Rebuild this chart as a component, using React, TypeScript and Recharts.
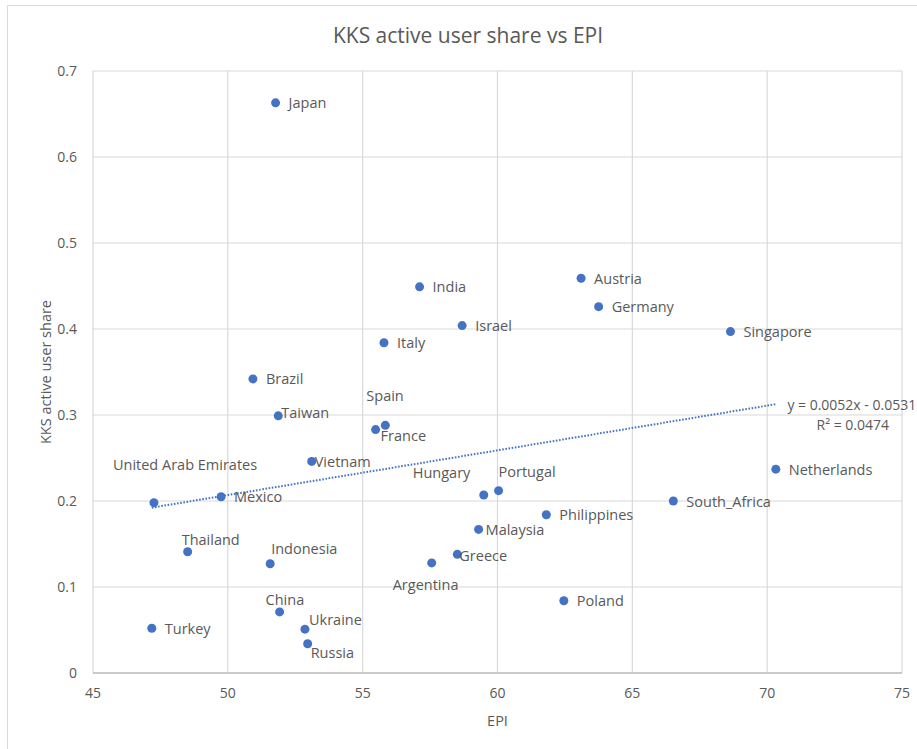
import React from "react";
import {
  ScatterChart,
  Scatter,
  XAxis,
  YAxis,
  CartesianGrid,
  ReferenceLine,
  ReferenceDot,
  Label,
} from "recharts";

const COUNTRIES = [
  "Japan", "India", "Italy", "Brazil", "Israel", "Austria", "Germany", "Singapore",
  "Taiwan", "Spain", "France", "Vietnam", "United Arab Emirates", "Mexico", "Thailand",
  "Indonesia", "China", "Turkey", "Ukraine", "Russia", "Argentina", "Greece", "Hungary",
  "Portugal", "Malaysia", "Philippines", "South_Africa", "Netherlands", "Poland",
];
const EPI = [
  51.77, 57.11, 55.79, 50.93, 58.69, 63.1, 63.75, 68.64,
  51.87, 55.84, 55.48, 53.11, 47.26, 49.75, 48.51,
  51.57, 51.92, 47.18, 52.86, 52.96, 57.56, 58.51, 59.49,
  60.04, 59.3, 61.81, 66.52, 70.32, 62.46,
];
const SHARE = [
  0.663, 0.449, 0.384, 0.342, 0.404, 0.459, 0.426, 0.397,
  0.299, 0.288, 0.283, 0.246, 0.198, 0.205, 0.141,
  0.127, 0.071, 0.052, 0.051, 0.034, 0.128, 0.138, 0.207,
  0.212, 0.167, 0.184, 0.2, 0.237, 0.084,
];

const X_TICKS = [45, 50, 55, 60, 65, 70, 75];
const Y_TICKS = [0, 0.1, 0.2, 0.3, 0.4, 0.5, 0.6, 0.7];

// trendline as printed on the chart
const TREND_SLOPE = 0.0052;
const TREND_INTERCEPT = -0.0531;
const TREND_R2 = 0.0474;

// where each data label sits relative to its marker [dx, dy]
const LABEL_OFFSET: Record<string, [number, number]> = {
  Taiwan: [3, -3],
  Spain: [-19, -30],
  France: [5, 6],
  Vietnam: [3, 0],
  "United Arab Emirates": [-41, -38],
  Thailand: [-6, -12],
  Indonesia: [1, -15],
  China: [-14, -12],
  Ukraine: [4, -10],
  Russia: [3, 9],
  Argentina: [-39, 22],
  Greece: [2, 1],
  Hungary: [-71, -22],
  Portugal: [0, -19],
  Malaysia: [7, 0],
};

const FONT = "'Open Sans', sans-serif";
const TEXT = "#595959";
const BLUE = "#4472c4";

const data = COUNTRIES.map((name, i) => ({ name, epi: EPI[i], share: SHARE[i] }));
const xMin = Math.min(...EPI);
const xMax = Math.max(...EPI);
const trend = (x: number) => TREND_SLOPE * x + TREND_INTERCEPT;

function Marker(props: any) {
  const { cx, cy, payload } = props;
  const [dx, dy] = LABEL_OFFSET[payload.name] ?? [13, 0];
  return (
    <g>
      <circle cx={cx} cy={cy} r={4.5} fill={BLUE} />
      <text
        x={cx + dx}
        y={cy + dy}
        dominantBaseline="central"
        fontSize={14.5}
        fontFamily={FONT}
        fill={TEXT}
      >
        {payload.name}
      </text>
    </g>
  );
}

function TrendText(props: any) {
  const { x, y } = props.viewBox;
  return (
    <g fontFamily={FONT} fontSize={14} fill={TEXT} textAnchor="middle">
      <text x={x + 76} y={y} dominantBaseline="central">
        {"y = " + TREND_SLOPE.toFixed(4) + "x - " + Math.abs(TREND_INTERCEPT).toFixed(4)}
      </text>
      <text x={x + 77} y={y + 20} dominantBaseline="central">
        {"R² = " + TREND_R2.toFixed(4)}
      </text>
    </g>
  );
}

function XTitle(props: any) {
  const vb = props.viewBox;
  return (
    <text x={vb.x + vb.width / 2} y={vb.y + 47} textAnchor="middle" dominantBaseline="central"
      fontSize={14.5} fontFamily={FONT} fill={TEXT}>
      EPI
    </text>
  );
}

function YTitle(props: any) {
  const vb = props.viewBox;
  const cx = 45;
  const cy = vb.y + vb.height / 2;
  return (
    <text x={cx} y={cy} textAnchor="middle" dominantBaseline="central" transform={`rotate(-90 ${cx} ${cy})`}
      fontSize={14.5} fontFamily={FONT} fill={TEXT}>
      KKS active user share
    </text>
  );
}

export default function App() {
  return (
    <div style={{ position: "absolute", left: 0, top: 0, width: 917, height: 749, background: "#fff" }}>
      <div
        style={{
          position: "absolute",
          left: 7,
          top: 5,
          width: 909,
          height: 743,
          borderLeft: "1px solid #d9d9d9",
          borderTop: "1px solid #d9d9d9",
        }}
      />
      <div
        style={{
          position: "absolute",
          left: 468,
          top: 20,
          transform: "translateX(-50%)",
          whiteSpace: "nowrap",
          fontFamily: FONT,
          fontSize: 21,
          color: TEXT,
          lineHeight: "30px",
        }}
      >
        KKS active user share vs EPI
      </div>
      <div style={{ position: "absolute", left: 0, top: 0 }}>
        <ScatterChart width={917} height={749} margin={{ top: 71, right: 15, bottom: 16, left: 33 }}>
          <CartesianGrid stroke="#d9d9d9" strokeWidth={1.2} />
          <XAxis
            type="number"
            dataKey="epi"
            domain={[45, 75]}
            ticks={X_TICKS}
            height={60}
            tickSize={0}
            tickMargin={15}
            axisLine={{ stroke: "#bfbfbf", strokeWidth: 1.5 }}
            tick={{ fontSize: 14, fontFamily: FONT, fill: TEXT }}
            allowDataOverflow
          >
            <Label content={<XTitle />} />
          </XAxis>
          <YAxis
            type="number"
            dataKey="share"
            domain={[0, 0.7]}
            ticks={Y_TICKS}
            width={60}
            tickSize={0}
            tickMargin={16}
            axisLine={false}
            tick={{ fontSize: 14, fontFamily: FONT, fill: TEXT }}
            allowDataOverflow
          >
            <Label content={<YTitle />} />
          </YAxis>
          <ReferenceLine
            segment={[
              { x: xMin, y: trend(xMin) },
              { x: xMax, y: trend(xMax) },
            ]}
            stroke={BLUE}
            strokeWidth={2}
            strokeDasharray="1.6 1.6"
            ifOverflow="visible"
          />
          <ReferenceDot
            x={xMax}
            y={trend(xMax)}
            r={0.01}
            fill="none"
            stroke="none"
            ifOverflow="visible"
            label={{ content: (p: any) => <TrendText {...p} /> }}
          />
          <Scatter data={data} fill={BLUE} shape={(p: any) => <Marker {...p} />} isAnimationActive={false} />
        </ScatterChart>
      </div>
    </div>
  );
}
